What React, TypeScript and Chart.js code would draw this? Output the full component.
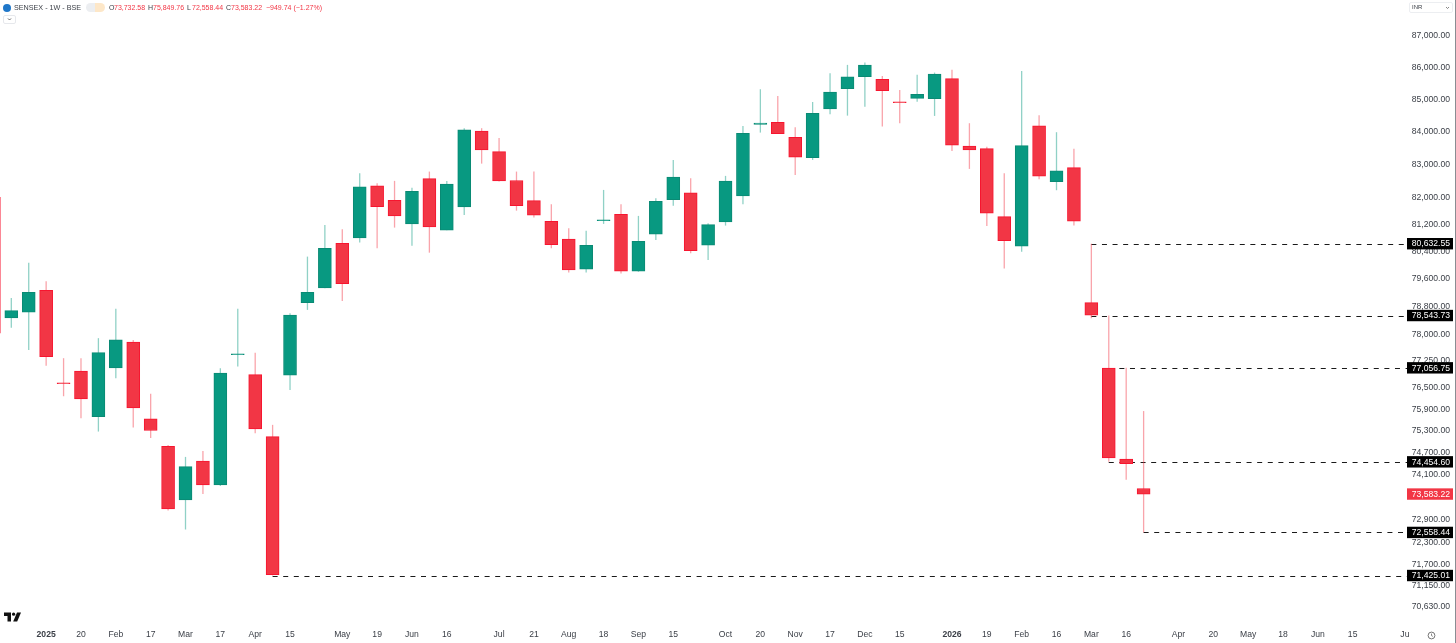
import React, { useEffect, useRef } from "react";
import { Chart, registerables } from "chart.js";

Chart.register(...registerables);

const FIRST_WEEK = -1;
const opens = [82013,78477,78640,79274,76635,76963,75697,77056,77782,75634,74880,73426,74473,73830,77427,76868,75145,76851,78915,79341,80647,80804,82354,81922,81218,82574,81031,81723,84017,83390,82516,81910,81298,80766,79886,81313,81506,79828,80914,81940,82142,80588,81278,82052,84225,84293,83832,83208,84703,85334,85711,85628,84925,85033,85021,85647,83564,83481,81435,80558,84180,82484,82906,78915,77048,74527,73732.58];
const closes = [78040,78686,79216,77374,76612,76186,77486,77848,75937,75311,73187,74326,73830,76907,77455,75358,71450,78554,79216,80498,79466,82324,81732,81456,82194,81129,82405,84057,83441,82505,81762,81476,80605,79866,80588,81337,79828,80706,81892,82617,80428,81197,82496,83955,84265,83943,83221,84570,85230,85702,86068,85271,84894,85158,85786,83586,83441,81536,80724,83573,82647,82807,81298,78554,74562,74408,73583.22];
const highs = [82013,79050,80070,79536,77329,77329,77897,78735,77848,76327,74916,74589,74752,77048,78735,77486,75468,78611,80253,81182,81063,82737,82435,82505,82302,82786,82505,84109,84109,83811,82786,82786,81803,81092,81012,82233,81803,81456,81982,83139,82586,81238,82656,84180,85315,85105,84139,84918,85818,86078,86150,85731,85293,85765,85836,85921,84262,83543,82737,85889,84509,83986,83481,80632.55,78543.73,77056.75,75849.76];
const lows = [78040,78191,77562,77112,76261,75653,75283,76767,75393,75109,73141,72636,73587,73803,77093,75239,71425.01,76438,78706,79330,78963,80665,80498,81108,80576,80369,81031,81485,83027,82484,81613,81405,80498,79787,79787,81218,79758,79810,80745,81762,80352,80157,81168,81803,83974,83934,82686,83139,84540,84496,84774,84158,84262,84928,84487,83411,82867,81159,79904,80399,82556,82224,81168,78469,74454.6,73968,72558.44];

const yTicks = [87000,86000,85000,84000,83000,82000,81200,80400,79600,78800,78000,77250,76500,75900,75300,74700,74100,72900,72300,71700,71150,70630];
const xTickIndex = [2,4,6,8,10,12,14,16,19,21,23,25,28,30,32,34,36,38,41,43,45,47,49,51,54,56,58,60,62,64,67,69,71,73,75,77,80];
const xTickLabels = ["2025","20","Feb","17","Mar","17","Apr","15","May","19","Jun","16","Jul","21","Aug","18","Sep","15","Oct","20","Nov","17","Dec","15","2026","19","Feb","16","Mar","16","Apr","20","May","18","Jun","15","Ju"];
const levelValues = [80632.55,78543.73,77056.75,74454.6,72558.44,71425.01];
const levelStarts = [62,62,63,63,65,15];
const lastPrice = 73583.22;

const GREEN = "#089981";
const RED = "#F23645";
const RED_EDGE = "#F7152F";
const GREEN_EDGE = "#0A8A74";
const FONT = "'Liberation Sans', Arial, sans-serif";

const fmt = (v: number) =>
  v.toLocaleString("en-US", { minimumFractionDigits: 2, maximumFractionDigits: 2 });

const levelsPlugin = {
  id: "levels",
  beforeDatasetsDraw(chart: any) {
    const { ctx, scales, chartArea } = chart;
    ctx.save();
    ctx.strokeStyle = "#1a1a1a";
    ctx.lineWidth = 1.2;
    ctx.setLineDash([5, 5.6]);
    levelValues.forEach((v, i) => {
      const y = Math.round(scales.y.getPixelForValue(v)) + 0.5;
      ctx.beginPath();
      ctx.moveTo(scales.x.getPixelForValue(levelStarts[i]), y);
      ctx.lineTo(chartArea.right, y);
      ctx.stroke();
    });
    ctx.restore();
  },
  afterDraw(chart: any) {
    const { ctx, scales, chartArea, width, height } = chart;
    const tag = (v: number, bg: string) => {
      const y = scales.y.getPixelForValue(v);
      ctx.fillStyle = bg;
      ctx.fillRect(chartArea.right, y - 5.7, 46, 11.4);
      ctx.fillStyle = "#ffffff";
      ctx.font = `8.6px ${FONT}`;
      ctx.textAlign = "right";
      ctx.textBaseline = "middle";
      ctx.fillText(fmt(v), 1450, y + 0.3);
    };
    ctx.save();
    levelValues.forEach((v) => tag(v, "#000000"));
    tag(lastPrice, RED);
    ctx.fillStyle = "#8a8d93";
    ctx.fillRect(width - 1, 0, 1, height);
    ctx.restore();
  },
};

export default function App() {
  const ref = useRef<HTMLCanvasElement>(null);

  useEffect(() => {
    document.body.style.margin = "0";
    document.body.style.background = "#fff";
    const xs = opens.map((_, i) => i + FIRST_WEEK);
    const isUp = (i: number) => closes[i] >= opens[i];
    const chart = new Chart(ref.current as HTMLCanvasElement, {
      type: "bar",
      data: {
        datasets: [
          {
            label: "body",
            order: 1,
            data: xs.map((x, i) => ({ x, y: [opens[i], closes[i]] })) as any,
            barThickness: 13,
            grouped: false,
            borderSkipped: false,
            borderWidth: 1,
            backgroundColor: xs.map((_, i) => (isUp(i) ? GREEN : RED)),
            borderColor: xs.map((_, i) => (isUp(i) ? GREEN_EDGE : RED_EDGE)),
          } as any,
          {
            label: "wick",
            order: 2,
            data: xs.map((x, i) => ({ x, y: [lows[i], highs[i]] })) as any,
            barThickness: 1.3,
            grouped: false,
            borderWidth: 0,
            inflateAmount: 0,
            backgroundColor: xs.map((_, i) =>
              isUp(i) ? "rgba(8,153,129,0.45)" : "rgba(242,54,69,0.45)"
            ),
          } as any,
        ],
      },
      options: {
        responsive: false,
        animation: false,
        devicePixelRatio: 1,
        layout: { padding: { left: 0, right: 6, top: 0, bottom: 0 } },
        plugins: { legend: { display: false }, tooltip: { enabled: false } },
        scales: {
          x: {
            type: "linear",
            offset: false,
            min: -0.649,
            max: 80.12,
            grid: { display: false, drawTicks: false },
            border: { display: false },
            afterFit: (s: any) => {
              s.height = 21;
              s.paddingLeft = 0;
              s.paddingRight = 0;
            },
            afterBuildTicks: (s: any) => { s.ticks = xTickIndex.map((value) => ({ value })); },
            ticks: {
              autoSkip: false,
              maxRotation: 0,
              padding: 7,
              color: "#3c4048",
              font: (c: any) => ({
                family: FONT,
                size: 8.6,
                weight: xTickLabels[c.index] === "2025" || xTickLabels[c.index] === "2026" ? "bold" : "normal",
              }),
              callback: (v: any) => xTickLabels[xTickIndex.indexOf(v)],
            },
          },
          y: {
            type: "logarithmic",
            position: "right",
            min: 70222,
            max: 88143,
            grid: { display: false, drawTicks: false },
            border: { display: false },
            afterFit: (s: any) => {
              s.width = 43;
              s.paddingTop = 0;
              s.paddingBottom = 0;
            },
            afterBuildTicks: (s: any) => { s.ticks = yTicks.map((value) => ({ value })); },
            ticks: {
              autoSkip: false,
              crossAlign: "far",
              color: "#3c4048",
              font: { family: FONT, size: 8.6 },
              callback: (v: any) => fmt(Number(v)),
            },
          },
        },
      } as any,
      plugins: [levelsPlugin],
    });
    return () => chart.destroy();
  }, []);

  const t = (x: number, y: number, s: string, color = "#3c4048", size = 7): React.ReactNode => (
    <span style={{ position: "absolute", left: x, top: y, font: `${size}px ${FONT}`, color, whiteSpace: "pre", lineHeight: "11px" }}>{s}</span>
  );

  return (
    <div style={{ position: "fixed", left: 0, top: 0, width: 1456, height: 643, background: "#fff", overflow: "hidden" }}>
      <canvas ref={ref} width={1456} height={643} style={{ display: "block" }} />
      <div style={{ position: "absolute", left: 3, top: 4, width: 8, height: 8, borderRadius: 4, background: "#1f77c9" }} />
      {t(14, 2, "SENSEX - 1W - BSE", "#3c4048", 7.2)}
      <div style={{ position: "absolute", left: 86, top: 3, width: 19, height: 9, borderRadius: 5, background: "linear-gradient(90deg,#eceef1 50%,#fde7c8 50%)" }} />
      {t(109, 2, "O")}{t(114, 2, "73,732.58", RED)}
      {t(148, 2, "H")}{t(153, 2, "75,849.76", RED)}
      {t(187, 2, "L")}{t(192, 2, "72,558.44", RED)}
      {t(226, 2, "C")}{t(231, 2, "73,583.22", RED)}
      {t(266, 2, "\u2212949.74 (\u22121.27%)", RED)}
      <div style={{ position: "absolute", left: 3, top: 15, width: 13, height: 9, border: "1px solid #e6e8ec", borderRadius: 2, boxSizing: "border-box" }}>
        <svg width="11" height="7" style={{ display: "block" }}>
          <path d="M4 2.5 L5.5 4 L7 2.5" fill="none" stroke="#444" strokeWidth="0.8" />
        </svg>
      </div>
      <div style={{ position: "absolute", left: 1409, top: 2, width: 44, height: 11, border: "1px solid #eceef1", borderRadius: 2, boxSizing: "border-box" }}>
        <span style={{ position: "absolute", left: 2, top: 0, font: `6px ${FONT}`, lineHeight: "9px", color: "#3c4048" }}>INR</span>
        <svg width="5" height="4" style={{ position: "absolute", right: 2, top: 3 }}>
          <path d="M1 1 L2.5 2.5 L4 1" fill="none" stroke="#555" strokeWidth="0.7" />
        </svg>
      </div>
      <svg width="18" height="10" viewBox="0 0 18 10" style={{ position: "absolute", left: 4, top: 612 }}>
        <path d="M0 0.5 H7 V9.5 H3.5 V4 H0 Z" fill="#111" />
        <circle cx="9.6" cy="2.2" r="1.6" fill="#111" />
        <path d="M13 0.5 H17 L13.2 9.5 H9.2 Z" fill="#111" />
      </svg>
      <svg width="9" height="9" style={{ position: "absolute", left: 1427, top: 631 }}>
        <circle cx="4.5" cy="4.5" r="3.4" fill="none" stroke="#555" strokeWidth="0.8" />
        <path d="M4.5 2.6 V4.6 L5.8 5.4" fill="none" stroke="#555" strokeWidth="0.7" />
      </svg>
    </div>
  );
}
